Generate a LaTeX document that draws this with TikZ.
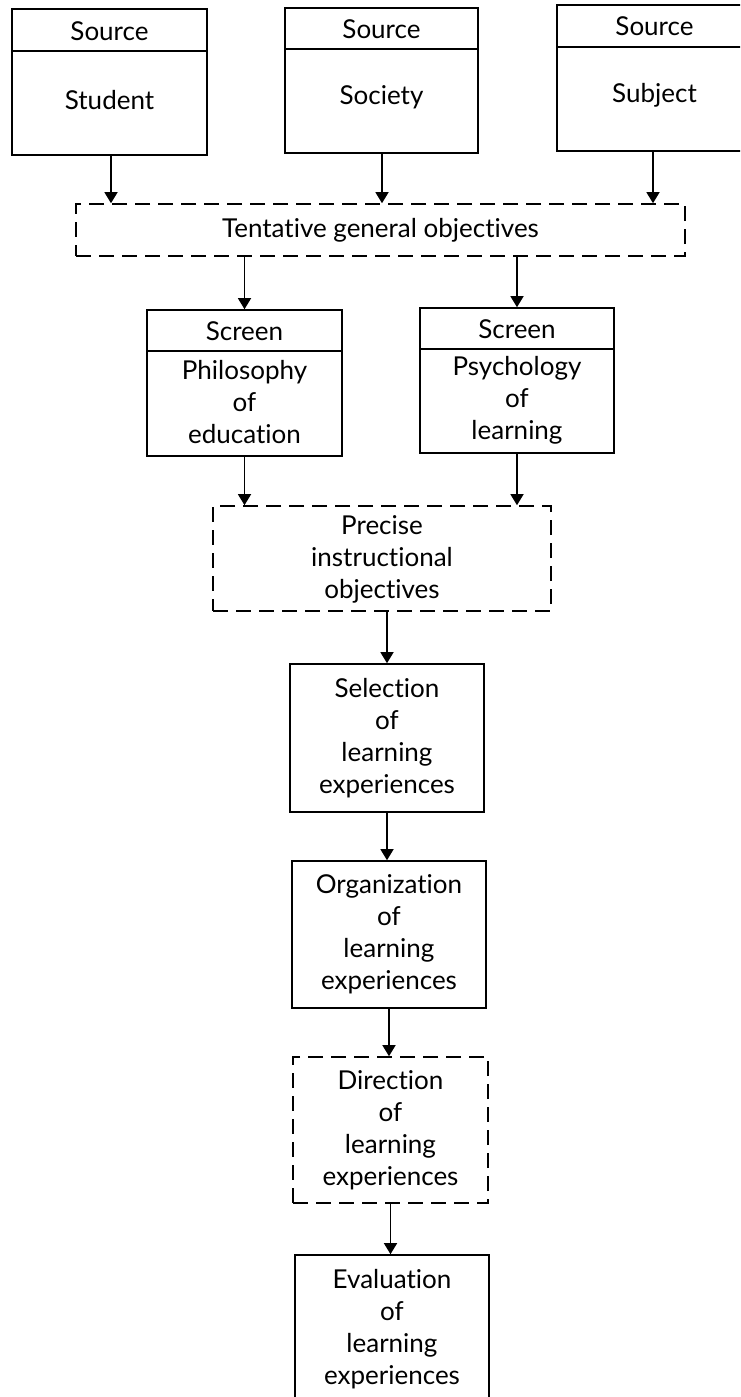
\documentclass[tikz,border=0pt]{standalone}
\usepackage{fontspec}
\setmainfont{Lato}[Ligatures={NoCommon,NoRequired,NoContextual}]
\usetikzlibrary{arrows.meta}

\tikzset{
  frame/.style={draw, line width=1.6pt, inner sep=0pt},
  dashframe/.style={frame, dash pattern=on 15pt off 8pt},
  label/.style={inner sep=0pt, align=center, font=\fontsize{26}{32}\selectfont},
  flow/.style={line width=1.4pt, -{Triangle[length=11pt,width=13pt]}},
  rule/.style={line width=1.6pt}
}

\begin{document}
\begin{tikzpicture}[x=1pt, y=-1pt]
\useasboundingbox (0,0) rectangle (740,1397);
\clip (0,0) rectangle (740,1397);

% --- source boxes ---
\node[frame, minimum width=195pt, minimum height=146pt] (student) at (109.5,82) {};
\draw[rule] (student.west |- 0,51) -- (student.east |- 0,51);
\node[label] (studentH) at (109.5,31) {Source};
\node[label] (studentB) at (109.5,100) {Student};

\node[frame, minimum width=193pt, minimum height=145pt] (society) at (381.5,80.5) {};
\draw[rule] (society.west |- 0,49) -- (society.east |- 0,49);
\node[label] (societyH) at (381.5,29) {Source};
\node[label] (societyB) at (381.5,97) {Society};

\node[frame, minimum width=195pt, minimum height=146pt] (subject) at (654.5,78) {};
\draw[rule] (subject.west |- 0,47) -- (subject.east |- 0,47);
\node[label] (subjectH) at (654.5,26) {Source};
\node[label] (subjectB) at (654.5,95) {Subject};

% --- tentative objectives ---
\node[dashframe, minimum width=609pt, minimum height=52pt] (tentative) at (380.5,230) {};
\node[label] (tentativeT) at (380.5,230) {Tentative general objectives};

% --- screens ---
\node[frame, minimum width=195pt, minimum height=146pt] (philo) at (244.5,383) {};
\draw[rule] (philo.west |- 0,351) -- (philo.east |- 0,351);
\node[label] (philoH) at (244.5,331) {Screen};
\node[label] (philoB) at (244.5,402) {Philosophy\\of\\education};

\node[frame, minimum width=194pt, minimum height=145pt] (psych) at (517,380.5) {};
\draw[rule] (psych.west |- 0,349) -- (psych.east |- 0,349);
\node[label] (psychH) at (517,329) {Screen};
\node[label] (psychB) at (517,400) {Psychology\\of\\learning};

% --- precise objectives ---
\node[dashframe, minimum width=338pt, minimum height=105pt] (precise) at (382,558.5) {};
\node[label] (preciseT) at (382,559.5) {Precise\\instructional\\objectives};

% --- learning experiences ---
\node[frame, minimum width=194pt, minimum height=148pt, label, draw] (select) at (387,738) {Selection\\of\\learning\\experiences};
\node[frame, minimum width=194pt, minimum height=147pt, label, draw] (organ) at (389,934.5) {Organization\\of\\learning\\experiences};
\node[dashframe, minimum width=195pt, minimum height=146pt, label, draw] (direct) at (390.5,1130) {Direction\\of\\learning\\experiences};
\node[frame, minimum width=194pt, minimum height=148pt, label, draw] (evalu) at (392,1329) {Evaluation\\of\\learning\\experiences};

% --- connectors ---
\draw[flow] (student.south -| 111,0) -- (tentative.north -| 111,0);
\draw[flow] (society.south -| 382,0) -- (tentative.north -| 382,0);
\draw[flow] (subject.south -| 653,0) -- (tentative.north -| 653,0);
\draw[flow] (tentative.south -| philo.north) -- (philo.north);
\draw[flow] (tentative.south -| psych.north) -- (psych.north);
\draw[flow] (philo.south) -- (philo.south |- precise.north);
\draw[flow] (psych.south) -- (psych.south |- precise.north);
\draw[flow] (select.north |- precise.south) -- (select.north);
\draw[flow] (select.south) -- (select.south |- organ.north);
\draw[flow] (organ.south) -- (organ.south |- direct.north);
\draw[flow] (direct.south) -- (direct.south |- evalu.north);
\end{tikzpicture}
\end{document}
